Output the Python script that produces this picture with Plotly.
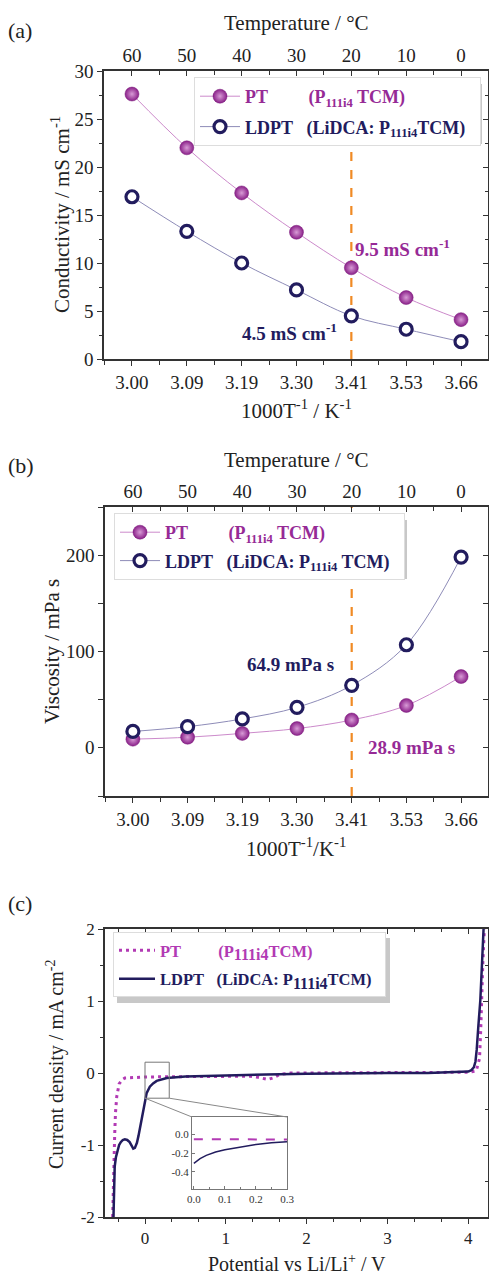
import plotly.graph_objects as go

# ---------------- data ----------------
temp_c = [60, 50, 40, 30, 20, 10, 0]
temp_labels = ["60", "50", "40", "30", "20", "10", "0"]
inv_t_labels = ["3.00", "3.09", "3.19", "3.30", "3.41", "3.53", "3.66"]
temp_minor = [65, 55, 45, 35, 25, 15, 5, -5]

cond_pt = [27.6, 22.0, 17.3, 13.2, 9.5, 6.4, 4.1]
cond_ldpt = [16.9, 13.3, 10.0, 7.2, 4.5, 3.1, 1.8]
visc_pt = [9.0, 11.0, 15.0, 20.0, 28.9, 44.0, 74.0]
visc_ldpt = [17.0, 22.0, 30.0, 42.0, 64.9, 107.0, 198.0]

lsv_pt_v = [-0.40, -0.395, -0.385, -0.375, -0.365, -0.35, -0.32, -0.28, -0.25, -0.15, 0.0, 0.5,
            1.0, 1.3, 1.4, 1.46, 1.52, 1.58, 1.67, 1.8, 2.5, 3.0, 3.5, 4.0, 4.1, 4.14, 4.155,
            4.165, 4.18, 4.2]
lsv_pt_j = [-2.0, -1.7, -1.3, -0.85, -0.55, -0.33, -0.15, -0.09, -0.07, -0.06, -0.055, -0.05,
            -0.045, -0.045, -0.06, -0.08, -0.09, -0.07, -0.02, 0.0, 0.005, 0.01, 0.01, 0.01,
            0.03, 0.2, 0.6, 1.0, 1.5, 2.0]
lsv_ldpt_v = [-0.39, -0.385, -0.375, -0.36, -0.34, -0.32, -0.30, -0.275, -0.25, -0.22, -0.19,
              -0.165, -0.145, -0.125, -0.10, -0.08, -0.06, -0.04, -0.02, 0.0, 0.02, 0.06, 0.1,
              0.145, 0.2, 0.27, 0.5, 1.0, 1.5, 2.0, 2.5, 3.0, 3.5, 3.9, 4.0, 4.04, 4.07, 4.09,
              4.105, 4.125, 4.15, 4.17, 4.19]
lsv_ldpt_j = [-2.0, -1.6, -1.3, -1.17, -1.07, -1.0, -0.96, -0.93, -0.92, -0.93, -0.96, -1.01,
              -1.05, -1.04, -0.97, -0.87, -0.75, -0.6, -0.47, -0.36, -0.28, -0.19, -0.145,
              -0.11, -0.09, -0.07, -0.05, -0.03, -0.02, -0.01, 0.0, 0.0, 0.0, 0.01, 0.02, 0.04,
              0.08, 0.16, 0.32, 0.64, 1.01, 1.5, 2.0]

inset_v = [0.0, 0.02, 0.04, 0.07, 0.1, 0.15, 0.2, 0.25, 0.3]
inset_pt_j = [-0.055, -0.055, -0.055, -0.055, -0.056, -0.056, -0.056, -0.057, -0.057]
inset_ldpt_j = [-0.31, -0.26, -0.225, -0.19, -0.165, -0.135, -0.11, -0.093, -0.08]

# ---------------- styling ----------------
W, H = 489, 1275
FONT = "Liberation Serif, Times New Roman, DejaVu Serif, serif"
PURPLE = "#962A96"
PURPLE_LINE = "#CC8ACB"
MAGENTA = "#B23AB4"
NAVY = "#221C5E"
NAVY_LINE = "#8E8CB8"
ORANGE = "#F08A24"
AXC = "#333333"
NB = "\u00a0"


def px(x):
    return x / W


def py(y):
    return 1 - y / H


fig = go.Figure()


def sphere_marker():
    return dict(symbol="circle", size=14, color="#8A2089", line=dict(width=0.5, color="#7A1A7A"),
                gradient=dict(type="radial", color="#D89BD6"))


def ring_marker():
    return dict(symbol="circle", size=12, color="white", line=dict(width=3.2, color=NAVY))


BIGSUB = "<sub><span style='font-size:16px'>111i4</span></sub>"

# ---- panel (a) ----
fig.add_trace(go.Scatter(
    x=temp_c, y=cond_pt, mode="lines+markers", xaxis="x", yaxis="y", legend="legend",
    legendgroup="a1",
    name="<b><span style='color:%s'>PT%s(P<sub>111i4</sub> TCM)</span></b>" % (PURPLE, NB * 9),
    line=dict(color=PURPLE_LINE, width=1, shape="spline"), marker=sphere_marker()))
fig.add_trace(go.Scatter(
    x=temp_c, y=cond_ldpt, mode="lines+markers", xaxis="x", yaxis="y", legend="legend",
    legendgroup="a2",
    name="<b><span style='color:%s'>LDPT%s(LiDCA: P<sub>111i4</sub>TCM)%s</span></b>"
         % (NAVY, NB * 3, NB * 2),
    line=dict(color=NAVY_LINE, width=1, shape="spline"), marker=ring_marker()))

# ---- panel (b) ----
fig.add_trace(go.Scatter(
    x=temp_c, y=visc_pt, mode="lines+markers", xaxis="x3", yaxis="y3", legend="legend2",
    legendgroup="b1",
    name="<b><span style='color:%s'>PT%s(P<sub>111i4</sub> TCM)</span></b>" % (PURPLE, NB * 9),
    line=dict(color=PURPLE_LINE, width=1, shape="spline"), marker=sphere_marker()))
fig.add_trace(go.Scatter(
    x=temp_c, y=visc_ldpt, mode="lines+markers", xaxis="x3", yaxis="y3", legend="legend2",
    legendgroup="b2",
    name="<b><span style='color:%s'>LDPT%s(LiDCA: P<sub>111i4</sub> TCM)%s</span></b>"
         % (NAVY, NB * 3, NB * 2),
    line=dict(color=NAVY_LINE, width=1, shape="spline"), marker=ring_marker()))

# ---- panel (c) ----
fig.add_trace(go.Scatter(
    x=lsv_pt_v, y=lsv_pt_j, mode="lines", xaxis="x5", yaxis="y5", legend="legend3",
    legendgroup="c1",
    name="<b><span style='color:%s'>PT%s(P%sTCM)</span></b>" % (MAGENTA, NB * 9, BIGSUB),
    line=dict(color=MAGENTA, width=3, dash="3px,4px")))
fig.add_trace(go.Scatter(
    x=lsv_ldpt_v, y=lsv_ldpt_j, mode="lines", xaxis="x5", yaxis="y5", legend="legend3",
    legendgroup="c2",
    name="<b><span style='color:%s'>LDPT%s(LiDCA: P%sTCM)%s</span></b>"
         % (NAVY, NB * 3, BIGSUB, NB * 2),
    line=dict(color=NAVY, width=2.5)))

# inset
fig.add_trace(go.Scatter(x=inset_v, y=inset_pt_j, mode="lines", xaxis="x7", yaxis="y7",
                         showlegend=False, line=dict(color=MAGENTA, width=2, dash="dash")))
fig.add_trace(go.Scatter(x=inset_v, y=inset_ldpt_j, mode="lines", xaxis="x7", yaxis="y7",
                         showlegend=False, line=dict(color=NAVY, width=1.5)))

# dummy traces so overlay axes are drawn
for xa, ya in [("x2", "y"), ("x", "y2"), ("x4", "y3"), ("x3", "y4"), ("x6", "y5"), ("x5", "y6")]:
    fig.add_trace(go.Scatter(x=[None], y=[None], xaxis=xa, yaxis=ya, showlegend=False,
                             hoverinfo="skip"))

TRANGE = [65.1, -4.92]
VRANGE = [-0.495, 4.245]

base = dict(showgrid=False, zeroline=False, showline=True, linecolor=AXC, linewidth=1.5,
            tickcolor=AXC, tickwidth=1.2, ticklen=5, automargin=False,
            tickfont=dict(family=FONT, size=19, color="#222"))


def ax(**kw):
    d = dict(base)
    d.update(kw)
    return d


dom_x_a = [px(104), px(488)]
dom_x_b = [px(105), px(488)]
dom_x_c = [px(105), px(488)]
dom_y_a = [py(359), py(71)]
dom_y_b = [py(796), py(507)]
dom_y_c = [py(1217), py(929)]

minor_x = dict(tickvals=temp_minor, ticklen=4, tickcolor=AXC, tickwidth=1.2)

layout = dict(
    width=W, height=H, autosize=False,
    margin=dict(l=0, r=0, t=0, b=0, pad=0, autoexpand=False),
    paper_bgcolor="white", plot_bgcolor="white",
    font=dict(family=FONT, color="#222"),
    # (a)
    xaxis=ax(domain=dom_x_a, anchor="y", range=TRANGE, tickmode="array", tickvals=temp_c,
             ticktext=inv_t_labels, ticks="outside", minor=dict(minor_x, ticks="outside")),
    xaxis2=ax(overlaying="x", side="top", anchor="y", range=TRANGE, tickmode="array",
              tickvals=temp_c, ticktext=temp_labels, ticks="inside",
              minor=dict(minor_x, ticks="inside")),
    yaxis=ax(domain=dom_y_a, anchor="x", range=[0, 30], tickmode="linear", tick0=0, dtick=5,
             ticks="outside", minor=dict(dtick=2.5, ticks="outside", ticklen=3, tickcolor=AXC)),
    yaxis2=ax(overlaying="y", side="right", anchor="x", range=[0, 30], tickmode="linear",
              tick0=0, dtick=5, ticks="inside", showticklabels=False,
              minor=dict(dtick=2.5, ticks="inside", ticklen=3, tickcolor=AXC)),
    # (b)
    xaxis3=ax(domain=dom_x_b, anchor="y3", range=TRANGE, tickmode="array", tickvals=temp_c,
              ticktext=inv_t_labels, ticks="outside", minor=dict(minor_x, ticks="outside")),
    xaxis4=ax(overlaying="x3", side="top", anchor="y3", range=TRANGE, tickmode="array",
              tickvals=temp_c, ticktext=temp_labels, ticks="inside",
              minor=dict(minor_x, ticks="inside")),
    yaxis3=ax(domain=dom_y_b, anchor="x3", range=[-50, 250], tickmode="array",
              tickvals=[0, 100, 200], ticktext=["0", "100", "200"], ticks="outside",
              minor=dict(tickvals=[-50, 50, 150, 250], ticks="outside", ticklen=5, tickcolor=AXC)),
    yaxis4=ax(overlaying="y3", side="right", anchor="x3", range=[-50, 250], tickmode="array",
              tickvals=[0, 100, 200], ticks="inside", showticklabels=False,
              minor=dict(tickvals=[-50, 50, 150, 250], ticks="inside", ticklen=5, tickcolor=AXC)),
    # (c)
    xaxis5=ax(domain=dom_x_c, anchor="y5", range=VRANGE, tickmode="array",
              tickvals=[0, 1, 2, 3, 4], ticktext=["0", "1", "2", "3", "4"], ticks="outside",
              tickfont=dict(family=FONT, size=17, color="#222"),
              minor=dict(tick0=0, dtick=1 / 3, ticks="outside", ticklen=3, tickcolor=AXC)),
    xaxis6=ax(overlaying="x5", side="top", anchor="y5", range=VRANGE, tickmode="array",
              tickvals=[0, 1, 2, 3, 4], ticks="inside", showticklabels=False,
              minor=dict(tick0=0, dtick=1 / 3, ticks="inside", ticklen=3, tickcolor=AXC)),
    yaxis5=ax(domain=dom_y_c, anchor="x5", range=[-2, 2], tickmode="array",
              tickvals=[-2, -1, 0, 1, 2], ticktext=["-2", "-1", "0", "1", "2"], ticks="outside",
              tickfont=dict(family=FONT, size=17, color="#222"),
              minor=dict(dtick=0.5, ticks="outside", ticklen=3, tickcolor=AXC)),
    yaxis6=ax(overlaying="y5", side="right", anchor="x5", range=[-2, 2], tickmode="array",
              tickvals=[-2, -1, 0, 1, 2], ticks="inside", showticklabels=False,
              minor=dict(dtick=0.5, ticks="inside", ticklen=3, tickcolor=AXC)),
    # inset
    xaxis7=dict(domain=[px(192), px(287)], anchor="y7", range=[-0.006, 0.3], showgrid=False,
                zeroline=False, showline=True, mirror=True, linecolor="#777", linewidth=1,
                tickmode="array", tickvals=[0, 0.1, 0.2, 0.3], automargin=False,
                ticktext=["0.0", "0.1", "0.2", "0.3"], ticks="inside", ticklen=3,
                tickcolor="#777", tickfont=dict(family=FONT, size=11, color="#333"),
                minor=dict(tickvals=[0.05, 0.15, 0.25], ticks="inside", ticklen=2,
                           tickcolor="#777")),
    yaxis7=dict(domain=[py(1189), py(1117)], anchor="x7", range=[-0.58, 0.18], showgrid=False,
                zeroline=False, showline=True, mirror=True, linecolor="#777", linewidth=1,
                tickmode="array", tickvals=[-0.4, -0.2, 0.0], automargin=False,
                ticktext=["-0.4", "-0.2", "0.0"], ticks="inside", ticklen=3, tickcolor="#777",
                tickfont=dict(family=FONT, size=11, color="#333")),
    legend=dict(x=px(194), y=py(77), xanchor="left", yanchor="top", bgcolor="white",
                bordercolor="#DDDDDD", borderwidth=1, font=dict(family=FONT, size=18),
                tracegroupgap=4, itemwidth=40),
    legend2=dict(x=px(114), y=py(513), xanchor="left", yanchor="top", bgcolor="white",
                 bordercolor="#DDDDDD", borderwidth=1, font=dict(family=FONT, size=18),
                 tracegroupgap=2, itemwidth=40),
    legend3=dict(x=px(113), y=py(932), xanchor="left", yanchor="top", bgcolor="white",
                 bordercolor="#DDDDDD", borderwidth=1, font=dict(family=FONT, size=16.5),
                 tracegroupgap=4, itemwidth=36),
)
fig.update_layout(**layout)

# ---------------- shapes ----------------
shapes = []
# legend shadows
for (x0, y0, x1, y1) in [(198, 84, 482, 144), (118, 520, 407, 579), (117, 938, 390, 1003)]:
    shapes.append(dict(type="rect", xref="paper", yref="paper", x0=px(x0), x1=px(x1),
                       y0=py(y1), y1=py(y0), fillcolor="#C8C8C8", line=dict(width=0),
                       layer="above"))
# 20 degC dashed reference lines
for xr, yr in [("x", "y domain"), ("x3", "y3 domain")]:
    shapes.append(dict(type="line", xref=xr, yref=yr, x0=20, x1=20, y0=0, y1=1,
                       line=dict(color=ORANGE, width=2.2, dash="dash"), layer="below"))
# zoom box in (c)
box_x = [0.0, 0.3]
box_y = [-0.35, 0.15]
shapes.append(dict(type="rect", xref="x5", yref="y5", x0=box_x[0], x1=box_x[1], y0=box_y[0],
                   y1=box_y[1], line=dict(color="#777", width=1)))


def c_to_paper(xv, yv):
    fx = (xv - VRANGE[0]) / (VRANGE[1] - VRANGE[0])
    fy = (yv - (-2)) / 4
    return (dom_x_c[0] + fx * (dom_x_c[1] - dom_x_c[0]),
            dom_y_c[0] + fy * (dom_y_c[1] - dom_y_c[0]))


for bx, ix in [(box_x[0], 192), (box_x[1], 287)]:
    sx, sy = c_to_paper(bx, box_y[0])
    shapes.append(dict(type="line", xref="paper", yref="paper", x0=sx, y0=sy, x1=px(ix),
                       y1=py(1117), line=dict(color="#888", width=1)))
fig.update_layout(shapes=shapes)

# ---------------- annotations ----------------
ann = []


def label(text, x, y, size=21, angle=0, xanchor="center"):
    ann.append(dict(text=text, x=px(x), y=py(y), xref="paper", yref="paper", showarrow=False,
                    textangle=angle, xanchor=xanchor, yanchor="middle",
                    font=dict(family=FONT, size=size, color="#222")))


label("(a)", 6, 30, size=22, xanchor="left")
label("(b)", 6, 465, size=22, xanchor="left")
label("(c)", 6, 903, size=22, xanchor="left")
label("Temperature / °C", 296, 23)
label("Temperature / °C", 296, 460)
label("1000T<sup>-1</sup> / K<sup>-1</sup>", 296, 410)
label("1000T<sup>-1</sup>/K<sup>-1</sup>", 296, 848)
label("Conductivity / mS cm<sup>-1</sup>", 60, 215, angle=-90)
label("Viscosity / mPa s", 52, 652, angle=-90)
label("Current density / mA cm<sup>-2</sup>", 55, 1065, size=20, angle=-90)
label("Potential vs Li/Li<sup>+</sup> / V", 297, 1263, size=20)

for text, xr, yr, xv, yv, col in [
    ("<b>9.5 mS cm<sup>-1</sup></b>", "x", "y", 10.6, 11.6, PURPLE),
    ("<b>4.5 mS cm<sup>-1</sup></b>", "x", "y", 31.2, 2.8, NAVY),
    ("<b>64.9 mPa s</b>", "x3", "y3", 31.2, 87, NAVY),
    ("<b>28.9 mPa s</b>", "x3", "y3", 9.1, 0, PURPLE),
]:
    ann.append(dict(text=text, x=xv, y=yv, xref=xr, yref=yr, showarrow=False,
                    font=dict(family=FONT, size=19, color=col)))

fig.update_layout(annotations=ann)

fig.write_html("out.html",
               config={"displayModeBar": False},
               post_script="document.body.style.margin='0px';"
                           "document.body.style.overflow='hidden';")
